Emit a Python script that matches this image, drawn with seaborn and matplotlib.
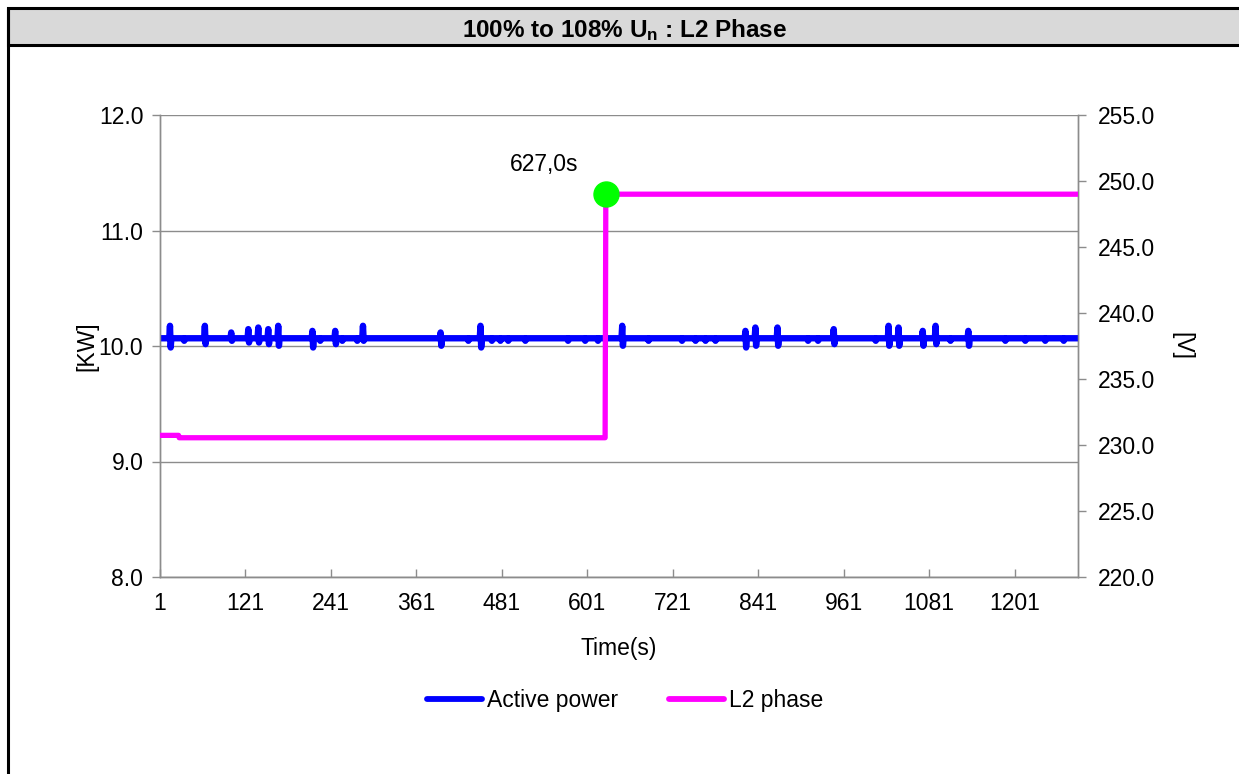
import numpy as np
import pandas as pd
import matplotlib
matplotlib.use("Agg")
import matplotlib.pyplot as plt
from matplotlib.lines import Line2D
from matplotlib.patches import Rectangle
import seaborn as sns

# ---------------- data ----------------
n_seconds = 1290
power_base = 10.067              # KW, steady level
spike_t = [15, 64, 101, 125, 139, 153, 167, 215, 247, 286, 395, 451, 650,
           823, 837, 868, 947, 1024, 1038, 1072, 1090, 1136]
spike_hi = [10.175, 10.175, 10.117, 10.146, 10.160, 10.146, 10.175, 10.131,
            10.131, 10.175, 10.117, 10.175, 10.175, 10.131, 10.160, 10.160,
            10.146, 10.175, 10.160, 10.131, 10.175, 10.131]
spike_lo = [9.987, 10.016, 10.045, 10.030, 10.030, 10.016, 10.002, 9.987,
            10.016, 10.045, 10.002, 9.987, 10.002, 9.987, 10.002, 10.002,
            10.016, 10.002, 10.002, 10.002, 10.016, 10.002]
dip_t = [35, 226, 257, 278, 434, 467, 479, 490, 514, 574, 598, 616, 687,
         734, 753, 767, 781, 911, 925, 1006, 1111, 1188, 1216, 1244, 1270]
dip_v = 10.045

voltage_levels = [230.73, 230.55, 249.0]   # V
voltage_change_t = [28, 627]               # first second of each new level
event_t = 627
event_label = "627,0s"

x_ticks = [1, 121, 241, 361, 481, 601, 721, 841, 961, 1081, 1201]

# build series
t = np.arange(1, n_seconds + 1)
power = np.full(n_seconds, power_base)
for ti, hi, lo in zip(spike_t, spike_hi, spike_lo):
    power[ti - 1] = hi
    power[ti] = lo
for ti in dip_t:
    power[ti - 1] = dip_v
volt = np.full(n_seconds, voltage_levels[0])
volt[t >= voltage_change_t[0]] = voltage_levels[1]
volt[t >= voltage_change_t[1]] = voltage_levels[2]

df = pd.DataFrame({"t": t, "power": power, "volt": volt})

# ---------------- style ----------------
sns.set_theme(style="white")
plt.rcParams["font.family"] = ["Liberation Sans", "DejaVu Sans"]
plt.rcParams["mathtext.fontset"] = "custom"
plt.rcParams["mathtext.rm"] = "Liberation Sans"
plt.rcParams["mathtext.bf"] = "Liberation Sans:bold"
plt.rcParams["mathtext.it"] = "Liberation Sans:italic"
for k in ("text.color", "axes.labelcolor", "xtick.color", "ytick.color"):
    plt.rcParams[k] = "black"

FS = 16.5
GRAY = "#8c8c8c"

fig = plt.figure(figsize=(12.39, 7.74), dpi=100)
fig.patch.set_facecolor("white")
ax = fig.add_axes([160 / 1239, 1 - 577 / 774, (1078 - 160) / 1239, (577 - 115) / 774])
ax2 = ax.twinx()

sns.lineplot(data=df, x="t", y="power", ax=ax, color="#0000FF", linewidth=4.6,
             solid_capstyle="round", solid_joinstyle="round", legend=False, zorder=3)
sns.lineplot(data=df, x="t", y="volt", ax=ax2, color="#FF00FF", linewidth=3.8,
             solid_capstyle="round", solid_joinstyle="round", legend=False, zorder=3)
ev_v = volt[event_t - 1]
ax2.plot([event_t], [ev_v], marker="o", markersize=18, color="#00FF00",
         markeredgecolor="#00FF00", linestyle="none", zorder=5)
ax2.annotate(event_label, xy=(event_t, ev_v), xytext=(-62, 30),
             textcoords="offset pixels", ha="center", va="center", fontsize=FS,
             color="black")

ax.set_xlim(1, n_seconds)
ax.set_ylim(8, 12)
ax2.set_ylim(220, 255)
ax.set_yticks([8, 9, 10, 11, 12])
ax2.set_yticks(np.arange(220, 256, 5))
ax.set_xticks(x_ticks)
ax.set_xticklabels([str(v) for v in x_ticks])
ax.yaxis.set_major_formatter(matplotlib.ticker.FormatStrFormatter("%.1f"))
ax2.yaxis.set_major_formatter(matplotlib.ticker.FormatStrFormatter("%.1f"))

ax.grid(axis="y", color=GRAY, linewidth=1.0)
ax.grid(axis="x", visible=False)
ax.set_axisbelow(True)
for a in (ax, ax2):
    for s in a.spines.values():
        s.set_color(GRAY)
        s.set_linewidth(1.0)
ax.spines["top"].set_visible(False)
ax2.spines["top"].set_visible(False)

ax.tick_params(axis="y", direction="out", length=6, width=1, color=GRAY, pad=6,
               labelsize=FS, left=True, labelcolor="black")
ax.tick_params(axis="x", direction="in", length=6, width=1, color=GRAY, pad=11,
               labelsize=FS, bottom=True, labelcolor="black")
ax2.tick_params(axis="y", direction="out", length=6, width=1, color=GRAY, pad=8,
                labelsize=FS, right=True, labelcolor="black")

ax.set_xlabel("Time(s)", fontsize=FS, labelpad=16)
ax.set_ylabel("[KW]", fontsize=FS, labelpad=0)
ax2.set_ylabel("[V]", fontsize=FS, labelpad=11, rotation=270, va="bottom")

# legend
handles = [Line2D([], [], color="#0000FF", linewidth=4.2, solid_capstyle="round"),
           Line2D([], [], color="#FF00FF", linewidth=4.2, solid_capstyle="round")]
fig.legend(handles, ["Active power", "L2 phase"], loc="center",
           bbox_to_anchor=(625 / 1239, 1 - 701 / 774), ncol=2, frameon=False,
           fontsize=FS, handlelength=2.4, handletextpad=0.2, columnspacing=2.25)

# title bar and frame
fig.add_artist(Rectangle((8 / 1239, 1 - 45 / 774), 1.0, (45 - 8) / 774,
                         transform=fig.transFigure, facecolor="#d9d9d9",
                         edgecolor="black", linewidth=2.2, zorder=0))
fig.add_artist(Line2D([8 / 1239, 8 / 1239], [0, 1 - 8 / 774], transform=fig.transFigure,
                      color="black", linewidth=2.2))
fig.text(625 / 1239, 1 - 30 / 774, r"100% to 108% U$_{\mathbf{n}}$ : L2 Phase",
         ha="center", va="center", fontsize=17.5, fontweight="bold", color="black")

fig.savefig("out.png", dpi=100, facecolor="white")
